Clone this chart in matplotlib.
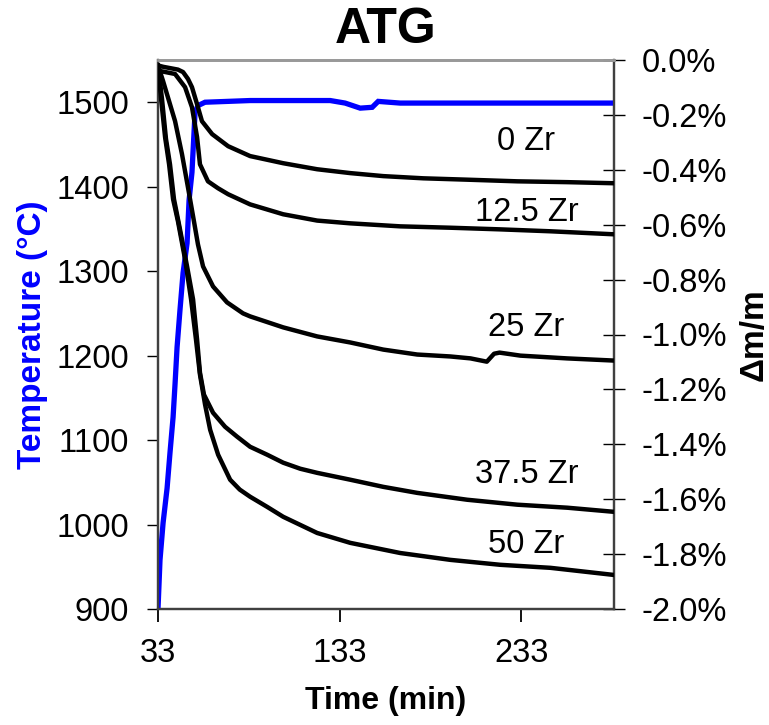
import matplotlib
matplotlib.use("Agg")
import matplotlib.pyplot as plt
from matplotlib.ticker import PercentFormatter, FixedLocator

plt.rcParams['font.family'] = ['Liberation Sans', 'DejaVu Sans']
plt.rcParams['axes.unicode_minus'] = False

# ---- data ----
temp_time = [33.0, 34.1, 35.8, 38.0, 39.6, 41.3, 42.4, 43.5, 45.1, 46.8, 49.0, 50.1,
             51.7, 53.4, 55.0, 58.9, 83.7, 127.8, 136.0, 144.3, 150.9, 154.2, 166.3, 284.0]
temp_vals = [900, 958, 1002, 1043, 1085, 1127, 1167, 1210, 1254, 1298, 1333, 1384,
             1417, 1488, 1496, 1500, 1502, 1502, 1499, 1493, 1494, 1501, 1499, 1499]

t_0zr = [33, 36, 40, 44, 46.8, 49.5, 51.7, 54.5, 57.2, 62.8, 71.6, 83.7, 101.9, 120.6, 138.8,
         157.0, 179.0, 203.2, 230.8, 258.3, 284]
m_0zr = [-0.02, -0.025, -0.03, -0.035, -0.044, -0.069, -0.099, -0.161, -0.223, -0.270, -0.314,
         -0.350, -0.376, -0.398, -0.412, -0.423, -0.431, -0.436, -0.442, -0.445, -0.449]

t_125zr = [33, 34.1, 42.4, 47.9, 51.7, 54.5, 56.1, 60.5, 66.0, 71.6, 83.7, 101.9, 120.6, 138.8,
           166.3, 193.9, 221.4, 249, 284]
m_125zr = [-0.026, -0.04, -0.051, -0.099, -0.172, -0.281, -0.380, -0.442, -0.467, -0.489, -0.526,
           -0.562, -0.585, -0.595, -0.606, -0.611, -0.617, -0.624, -0.635]

t_25zr = [33, 35.8, 42.4, 46.2, 49.5, 52.8, 55.0, 57.8, 63.3, 71.0, 79.8, 83.7, 101.9, 120.6,
          138.8, 157.0, 175.7, 193.9, 205, 214, 218, 221, 232.5, 258, 284]
m_25zr = [-0.02, -0.077, -0.223, -0.343, -0.464, -0.588, -0.672, -0.752, -0.825, -0.883, -0.923,
          -0.934, -0.974, -1.007, -1.029, -1.055, -1.073, -1.080, -1.087, -1.099, -1.070, -1.066,
          -1.077, -1.087, -1.095]

t_375zr = [33, 35.2, 37.4, 39.6, 41.8, 45.1, 49.0, 52.3, 54.5, 56.1, 58.3, 63.3, 69.9, 76.5,
           83.7, 93.1, 101.9, 111.3, 120.6, 138.8, 157.0, 175.7, 203.2, 230.8, 258.3, 284]
m_375zr = [-0.02, -0.142, -0.288, -0.380, -0.507, -0.617, -0.752, -0.872, -1.018, -1.139, -1.219,
           -1.285, -1.336, -1.372, -1.409, -1.438, -1.467, -1.489, -1.504, -1.529, -1.555, -1.577,
           -1.602, -1.620, -1.631, -1.646]

t_50zr = [33, 34.7, 36.9, 39.1, 41.3, 44.0, 47.9, 51.2, 53.9, 56.1, 58.9, 61.7, 66.1, 72.7,
          78.0, 83.7, 93.1, 101.9, 120.6, 138.8, 166.3, 193.9, 221.4, 249, 284]
m_50zr = [-0.02, -0.142, -0.281, -0.380, -0.507, -0.588, -0.726, -0.872, -1.018, -1.146, -1.255,
          -1.347, -1.438, -1.529, -1.565, -1.591, -1.628, -1.664, -1.723, -1.759, -1.796, -1.821,
          -1.839, -1.850, -1.876]

series_labels = ["0 Zr", "12.5 Zr", "25 Zr", "37.5 Zr", "50 Zr"]
label_y = [-0.296, -0.555, -0.974, -1.511, -1.766]
label_x = 235.8

x_ticks = [33, 133, 233]
temp_ticks = [900, 1000, 1100, 1200, 1300, 1400, 1500]
mass_ticks = [0.0, -0.2, -0.4, -0.6, -0.8, -1.0, -1.2, -1.4, -1.6, -1.8, -2.0]

# ---- figure ----
fig = plt.figure(figsize=(7.69, 7.25), dpi=100)
ax1 = fig.add_axes([158/769, 1-609/725, (614-158)/769, (609-60)/725])
ax2 = ax1.twinx()

ax1.plot(temp_time, temp_vals, color='#0000FF', lw=3.8, solid_joinstyle='miter', zorder=3)
for t, m in [(t_0zr, m_0zr), (t_125zr, m_125zr), (t_25zr, m_25zr),
             (t_375zr, m_375zr), (t_50zr, m_50zr)]:
    ax2.plot(t, m, color='black', lw=3.2, zorder=3)

ax1.set_xlim(33, 284)
ax1.set_ylim(900, 1550)
ax2.set_ylim(-2.0, 0.0)

ax1.set_xticks(x_ticks)
ax1.set_yticks(temp_ticks)
ax2.yaxis.set_major_locator(FixedLocator(mass_ticks))
ax2.yaxis.set_major_formatter(PercentFormatter(xmax=100, decimals=1))

fs = 23.5
ax1.tick_params(axis='x', direction='out', length=9, width=1.3, labelsize=fs, pad=12)
ax1.tick_params(axis='y', direction='out', length=8, width=1.0, labelsize=fs, pad=13)
ax2.tick_params(axis='y', direction='inout', length=16, width=1.0, labelsize=fs, pad=12)

for ax in (ax1, ax2):
    for side in ('left', 'bottom', 'right'):
        ax.spines[side].set_color('#404040')
        ax.spines[side].set_linewidth(1.6)
    ax.spines['top'].set_color('#999999')
    ax.spines['top'].set_linewidth(2.0)

for i, lab in enumerate(series_labels):
    ax2.text(label_x, label_y[i], lab, fontsize=fs, ha='center', va='center', zorder=4)

ax1.set_xlabel('Time (min)', fontsize=23, fontweight='bold', labelpad=12)
ax1.set_ylabel('Temperature (°C)', fontsize=24, fontweight='bold', color='#0000FF', labelpad=6)
ax2.set_ylabel('Δm/m', fontsize=24, fontweight='bold', labelpad=8)
fig.text(386/769, 1-30/725, 'ATG', fontsize=36, fontweight='bold', ha='center', va='center')

fig.savefig('out.png', dpi=100)
